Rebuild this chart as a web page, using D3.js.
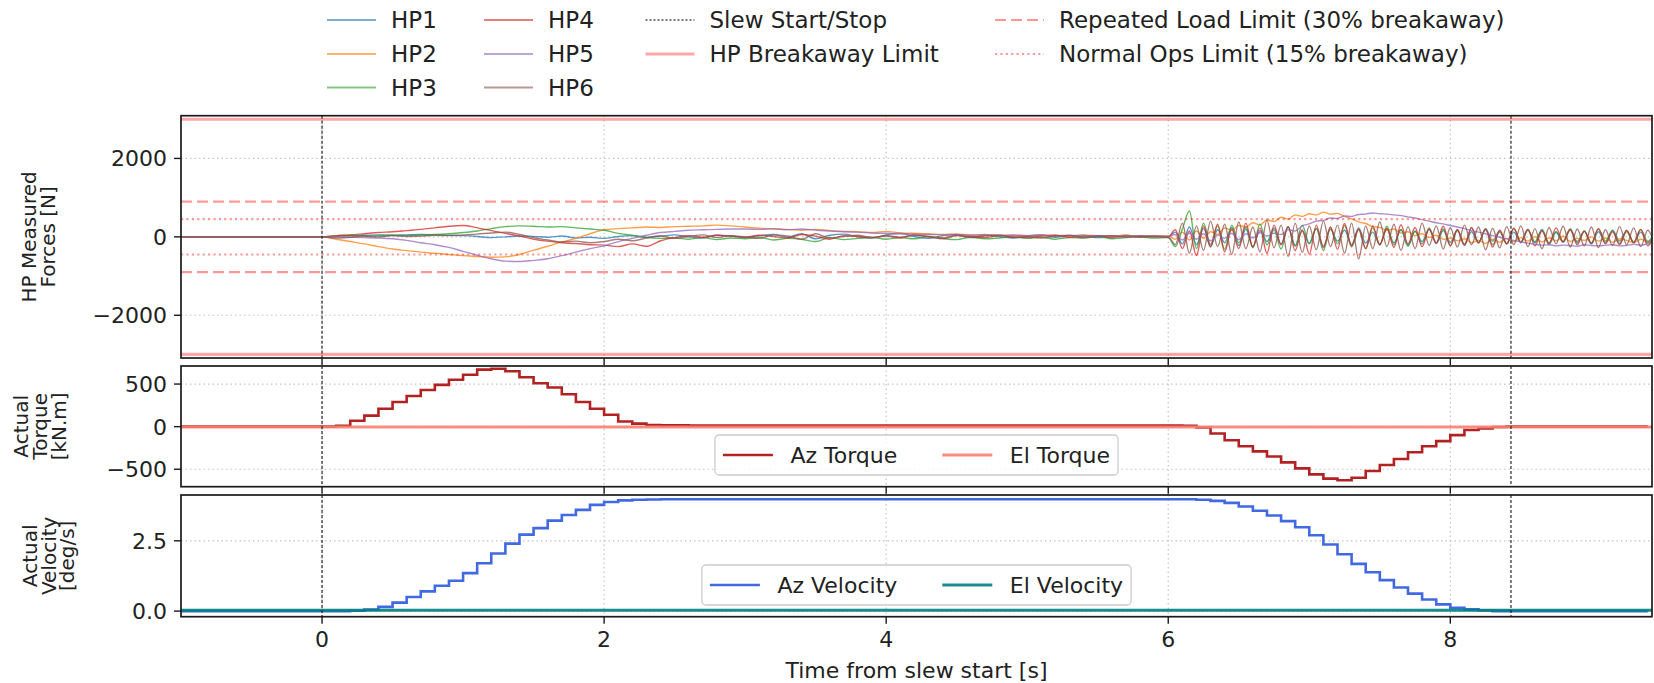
<!DOCTYPE html>
<html lang="en">
<head>
<meta charset="UTF-8">
<title>HP forces during slew</title>
<script src="https://d3js.org/d3.v7.min.js"></script>
<style>
  body { margin: 0; background: #fff; }
  text { font-family: "DejaVu Sans", sans-serif; font-size: 22px; fill: #222; }
  .topleg text { font-size: 23px; }
  text.ylab { font-size: 20px; }
</style>
</head>
<body>
<div id="chart"></div>
<script>

// ---- values ----
var slewTimes = [0, 8.43]
var xTicks = [0, 2, 4, 6, 8]
var forceTicks = [-2000, 0, 2000]
var torqueTicks = [-500, 0, 500]
var velocityTicks = [0, 2.5]

var breakawayLimit = 3000
var repeatedLimit = 900    // 30% breakaway
var normalLimit = 450      // 15% breakaway

var hpNames = ["HP1", "HP2", "HP3", "HP4", "HP5", "HP6"]
var hpColors = ["#1f77b4", "#ff7f0e", "#2ca02c", "#d62728", "#9467bd", "#8c564b"]

// sample times of the hardpoint forces: one point before the slew,
// 0.1 s steps until 6 s, then 0.05 s steps through the vibrating part
var hpTime = [-1].concat(d3.range(0, 6.05, 0.1), d3.range(6.05, 9.46, 0.05))

var hp1 = [0,
  0, 10, 30, 40, 50, 40, 50, 60, 50, 40,
  30, 10, -20, 0, 20, 10, -10, 20, -30, -10,
  -40, 10, 30, -10, 20, 50, 0, -30, 40, 20,
  -20, 30, 60, -10, 80, -50, 40, 70, 0, -30,
  50, 90, 10, -40, 30, 60, -20, 40, 10, -30,
  20, 50, -10, 30, 40, -20, 10, 40, -10, 20,
  10,
  120, -180, 250, -200, 220, -260, 180, -150, 240, -220,
  200, -250, 160, -120, 230, -190, 260, -230, 150, -170,
  210, -240, 190, -110, 170, -200, 230, -160, 120, -190,
  200, -150, 180, -210, 140, -120, 190, -170, 160, -140,
  180, -200, 130, -160, 210, -110, 150, -180, 120, -150,
  170, -130, 190, -160, 110, -140, 180, -120, 150, -170,
  130, -150, 170, -110, 160, -140, 120, -160, 100]

var hp2 = [0,
  0, -60, -120, -180, -250, -310, -350, -390, -420, -450,
  -480, -500, -520, -510, -450, -340, -240, -130, -40, 80,
  180, 210, 230, 250, 240, 260, 270, 280, 300, 280,
  250, 220, 200, 190, 170, 190, 160, 140, 130, 110,
  140, 100, 90, 80, 60, 70, 50, 60, 40, 50,
  30, 50, 40, 20, 40, 30, 20, 40, 10, 30,
  20,
  -60, 120, -80, 150, -40, 130, 60, 230, 160, 290,
  250, 360, 300, 430, 390, 500, 450, 560, 520, 590,
  560, 630, 580, 600, 520, 460, 380, 340, 260, 240,
  170, 200, 100, 130, 30, 80, -20, 40, -60, -30,
  -100, -50, -150, -90, -170, -60, -140, -40, -120, -20,
  -110, 10, -130, -30, -100, 20, -120, -40, -90, 0,
  -110, -30, -140, -50, -90, -150, -60, -120, -100]

var hp3 = [0,
  0, 30, 40, 20, 30, 40, 30, 50, 60, 80,
  110, 150, 210, 260, 280, 270, 250, 260, 230, 200,
  170, 90, 40, -20, -40, -30, -60, -20, -70, -30,
  -50, -10, -80, -40, -60, -120, -20, -70, -40, -10,
  -60, -20, -50, 10, -40, -70, -10, -50, -30, 0,
  -40, -10, -60, -20, -30, 10, -50, -20, 0, -30,
  -20,
  -250, 200, 660, -300, 350, -200, 280, -320, 300, -150,
  250, -280, 330, -200, 180, -310, 260, -230, 300, -170,
  220, -350, 240, -180, 290, -260, 180, -300, 230, -210,
  270, -200, 190, -240, 150, -180, 230, -150, 200, -220,
  160, -190, 230, -140, 180, -200, 120, -170, 210, -130,
  190, -150, 170, -200, 140, -120, 210, -160, 150, -180,
  200, -110, 160, -170, 130, -150, 190, -120, 140]

var hp4 = [0,
  0, 30, 50, 80, 110, 130, 160, 190, 230, 270,
  290, 230, 160, 90, 20, -60, -110, -150, -170, -200,
  -210, -250, -180, -240, -100, -20, 30, -10, 40, 20,
  -10, 40, 10, -30, 60, 20, -60, 30, 10, -20,
  30, -10, 50, 0, -30, 40, 10, -20, 30, 0,
  -20, 20, 40, -10, 10, 30, -20, 20, 0, 10,
  0,
  180, -300, 150, -480, 280, -250, 320, -380, 200, -300,
  350, -260, 230, -420, 300, -200, 260, -350, 180, -440,
  300, -280, 250, -320, 340, -230, 200, -300, 280, -200,
  220, -270, 310, -180, 240, -250, 200, -160, 270, -230,
  180, -220, 240, -150, 200, -260, 170, -180, 220, -140,
  190, -230, 150, -170, 230, -120, 180, -200, 140, -160,
  210, -180, 130, -200, 170, -140, 190, -230, 120]

var hp5 = [0,
  0, 0, -10, -20, -30, -50, -90, -150, -200, -270,
  -370, -470, -560, -620, -630, -600, -560, -480, -390, -300,
  -230, -120, -40, 40, 110, 140, 170, 180, 190, 200,
  200, 190, 210, 180, 200, 170, 150, 130, 120, 100,
  90, 80, 70, 60, 50, 60, 40, 50, 30, 40,
  30, 40, 20, 30, 10, 30, 20, 10, 30, 20,
  10,
  60, -80, 100, -60, 80, -100, 50, -40, 90, -70,
  80, -30, 110, 20, 90, 60, 180, 150, 280, 330,
  400, 420, 480, 470, 530, 520, 570, 580, 610, 590,
  580, 560, 540, 510, 480, 440, 400, 360, 330, 290,
  250, 210, 160, 120, 80, 30, -10, -50, -90, -130,
  -160, -190, -210, -200, -230, -210, -220, -240, -200, -220,
  -230, -210, -200, -230, -220, -190, -210, -180, -170]

var hp6 = [0,
  0, -30, -10, 20, 0, 30, 10, 20, 40, 30,
  50, 70, 100, 120, 60, -20, -80, -130, -110, -150,
  -120, -60, -100, -30, 20, -40, 10, 50, -20, 30,
  0, -40, 50, 20, -60, 80, -30, 10, 40, -20,
  20, -30, 40, 10, -50, 30, -10, 20, 50, -20,
  10, -30, 20, 40, -20, 10, 30, -10, 20, 0,
  -10,
  -200, 350, -420, 280, -350, 400, -250, 320, -450, 380,
  -300, 250, -380, 420, -280, 300, -500, 350, -400, 280,
  -330, 400, -250, 300, -420, 350, -560, 280, -300, 380,
  -250, 320, -350, 260, -300, 350, -220, 280, -310, 240,
  -260, 300, -200, 250, -330, 220, -280, 260, -200, 280,
  -250, 210, -300, 240, -180, 270, -260, 200, -230, 250,
  -270, 180, -220, 260, -200, 230, -250, 170, -210]

var hpSeries = [hp1, hp2, hp3, hp4, hp5, hp6]

// mount torque and velocity, controller steps of 0.1 s
var motionTime = [-1].concat(d3.range(0, 9.45, 0.1))

var azTorque = [0,
  0, 10, 70, 130, 210, 290, 360, 430, 490, 550,
  610, 670, 680, 650, 580, 510, 460, 380, 290, 210,
  140, 60, 35, 20, 15, 15, 12, 12, 12, 12,
  12, 12, 12, 12, 12, 12, 12, 12, 12, 12,
  12, 12, 12, 12, 12, 12, 12, 12, 12, 12,
  12, 12, 12, 12, 12, 12, 12, 12, 12, 12,
  12, 10, -10, -80, -160, -230, -290, -350, -420, -490,
  -560, -610, -630, -600, -520, -450, -380, -300, -230, -170,
  -100, -40, -20, -5, 0, 0, 0, 0, 0, 0,
  0, 0, 0, 0, 0]

var azVelocity = [0,
  0, 0, 0.01, 0.05, 0.15, 0.3, 0.5, 0.7, 0.9, 1.08,
  1.35, 1.7, 2.05, 2.4, 2.72, 2.95, 3.22, 3.42, 3.6, 3.78,
  3.88, 3.94, 3.96, 3.97, 3.98, 3.98, 3.98, 3.98, 3.98, 3.98,
  3.98, 3.98, 3.98, 3.98, 3.98, 3.98, 3.98, 3.98, 3.98, 3.98,
  3.98, 3.98, 3.98, 3.98, 3.98, 3.98, 3.98, 3.98, 3.98, 3.98,
  3.98, 3.98, 3.98, 3.98, 3.98, 3.98, 3.98, 3.98, 3.98, 3.98,
  3.98, 3.98, 3.96, 3.92, 3.85, 3.72, 3.57, 3.4, 3.2, 2.98,
  2.7, 2.37, 2.02, 1.68, 1.38, 1.1, 0.84, 0.62, 0.41, 0.24,
  0.12, 0.06, 0.02, 0, 0, 0, 0, 0, 0, 0,
  0, 0, 0, 0, 0]

// elevation axis hardly moves
var elTime = [-1, 0, 2, 4, 6, 8, 9.43]
var elTorque = [-4, -4, -4, -4, -4, -4, -4]
var elVelocity = [0.03, 0.03, 0.03, 0.03, 0.03, 0.03, 0.03]

// ---- layout ----
var width = 1654, height = 683
var left = 181, right = 1652

var panels = [
    {top: 115.7, bottom: 358, domain: [-3090, 3090], ticks: forceTicks, fmt: d3.format("d"),
     label: ["HP Measured", "Forces [N]"], labelX: 28.5},
    {top: 366, bottom: 486.7, domain: [-705, 712], ticks: torqueTicks, fmt: d3.format("d"),
     label: ["Actual", "Torque", "[kN.m]"], labelX: 21},
    {top: 495, bottom: 616.7, domain: [-0.2, 4.13], ticks: velocityTicks, fmt: d3.format(".1f"),
     label: ["Actual", "Velocity", "[deg/s]"], labelX: 29.5}
]
var labelStep = 18.8

var x = d3.scaleLinear().domain([-1, 9.43]).range([left, right])

var svg = d3.select("#chart")
    .append("svg")
    .attr("width", width)
    .attr("height", height)

function lineFor(t, v, y, curve) {
    return d3.line()
        .x(function(d, i) { return x(t[i]) })
        .y(function(d) { return y(d) })
        .curve(curve || d3.curveLinear)(v)
}

function hline(g, y, value, style) {
    g.append("line")
        .attr("x1", left).attr("x2", right)
        .attr("y1", y(value)).attr("y2", y(value))
        .attr("stroke", style.color)
        .attr("stroke-opacity", style.opacity)
        .attr("stroke-width", style.width)
        .attr("stroke-dasharray", style.dash || null)
}

var breakStyle = {color: "red", opacity: 0.35, width: 3.2}
var repeatStyle = {color: "red", opacity: 0.4, width: 2.2, dash: "11,5"}
var normalStyle = {color: "red", opacity: 0.4, width: 2.2, dash: "2.2,3.2"}
var slewStyle = {color: "#222", opacity: 0.9, width: 1.3, dash: "3,2"}

panels.forEach(function(p, pi) {
    var y = d3.scaleLinear().domain(p.domain).range([p.bottom, p.top])
    p.y = y

    var clipId = "clip" + pi
    svg.append("clipPath").attr("id", clipId)
        .append("rect")
        .attr("x", left).attr("y", p.top)
        .attr("width", right - left).attr("height", p.bottom - p.top)

    var g = svg.append("g").attr("clip-path", "url(#" + clipId + ")")

    // dotted grid
    xTicks.forEach(function(t) {
        g.append("line")
            .attr("x1", x(t)).attr("x2", x(t))
            .attr("y1", p.top).attr("y2", p.bottom)
            .attr("stroke", "#c4c4c4").attr("stroke-width", 1.2)
            .attr("stroke-dasharray", "1.5,3")
    })
    p.ticks.forEach(function(v) {
        g.append("line")
            .attr("x1", left).attr("x2", right)
            .attr("y1", y(v)).attr("y2", y(v))
            .attr("stroke", "#c4c4c4").attr("stroke-width", 1.2)
            .attr("stroke-dasharray", "1.5,3")
    })

    if (pi === 0) {
        hpSeries.forEach(function(s, i) {
            g.append("path")
                .attr("d", lineFor(hpTime, s, y, d3.curveMonotoneX))
                .attr("fill", "none")
                .attr("stroke", hpColors[i])
                .attr("stroke-opacity", 0.75)
                .attr("stroke-width", 1.4)
        })
        hline(g, y, breakawayLimit, breakStyle)
        hline(g, y, -breakawayLimit, breakStyle)
        hline(g, y, repeatedLimit, repeatStyle)
        hline(g, y, -repeatedLimit, repeatStyle)
        hline(g, y, normalLimit, normalStyle)
        hline(g, y, -normalLimit, normalStyle)
    } else if (pi === 1) {
        g.append("path")
            .attr("d", lineFor(motionTime, azTorque, y, d3.curveStepAfter))
            .attr("fill", "none").attr("stroke", "#b22222").attr("stroke-width", 2.6)
        g.append("path")
            .attr("d", lineFor(elTime, elTorque, y))
            .attr("fill", "none").attr("stroke", "#fa8072")
            .attr("stroke-opacity", 0.9).attr("stroke-width", 3)
    } else {
        g.append("path")
            .attr("d", lineFor(motionTime, azVelocity, y, d3.curveStepAfter))
            .attr("fill", "none").attr("stroke", "#4169e1").attr("stroke-width", 2.6)
        g.append("path")
            .attr("d", lineFor(elTime, elVelocity, y))
            .attr("fill", "none").attr("stroke", "#008080")
            .attr("stroke-opacity", 0.9).attr("stroke-width", 3.2)
    }

    // slew start / stop markers
    slewTimes.forEach(function(t) {
        g.append("line")
            .attr("x1", x(t)).attr("x2", x(t))
            .attr("y1", p.top).attr("y2", p.bottom)
            .attr("stroke", slewStyle.color).attr("stroke-opacity", slewStyle.opacity)
            .attr("stroke-width", slewStyle.width).attr("stroke-dasharray", slewStyle.dash)
    })

    // frame
    svg.append("rect")
        .attr("x", left).attr("y", p.top)
        .attr("width", right - left).attr("height", p.bottom - p.top)
        .attr("fill", "none").attr("stroke", "#1a1a1a").attr("stroke-width", 1.7)

    // y ticks
    p.ticks.forEach(function(v) {
        svg.append("line")
            .attr("x1", left - 7).attr("x2", left)
            .attr("y1", y(v)).attr("y2", y(v))
            .attr("stroke", "#1a1a1a").attr("stroke-width", 1.4)
        svg.append("text")
            .attr("x", left - 14).attr("y", y(v)).attr("dy", "0.36em")
            .attr("text-anchor", "end")
            .text(p.fmt(v))
    })

    // x ticks on every panel, labels only at the bottom
    xTicks.forEach(function(t) {
        svg.append("line")
            .attr("x1", x(t)).attr("x2", x(t))
            .attr("y1", p.bottom).attr("y2", p.bottom + 7)
            .attr("stroke", "#1a1a1a").attr("stroke-width", 1.4)
        if (pi === panels.length - 1) {
            svg.append("text")
                .attr("x", x(t)).attr("y", p.bottom + 14).attr("dy", "0.76em")
                .attr("text-anchor", "middle")
                .text(d3.format("d")(t))
        }
    })

    // multi line y label
    var cy = (p.top + p.bottom) / 2
    p.label.forEach(function(s, i) {
        var cx = p.labelX + i * labelStep
        svg.append("text")
            .attr("class", "ylab")
            .attr("transform", "translate(" + cx + "," + cy + ") rotate(-90)")
            .attr("text-anchor", "middle")
            .attr("dy", "0.36em")
            .text(s)
    })
})

svg.append("text")
    .attr("x", (left + right) / 2).attr("y", 678)
    .attr("text-anchor", "middle")
    .text("Time from slew start [s]")

// ---- legends ----
function drawHandle(g, x0, yy, len, st) {
    g.append("line")
        .attr("x1", x0).attr("x2", x0 + len)
        .attr("y1", yy).attr("y2", yy)
        .attr("stroke", st.color)
        .attr("stroke-opacity", st.opacity)
        .attr("stroke-width", st.width)
        .attr("stroke-dasharray", st.dash || null)
}

function panelLegend(p, items) {
    var g = svg.append("g")
    var handleLen = 50, gap = 17.5, colGap = 45, pad = 8, boxH = 40
    var cy = p.bottom - 11.7 - boxH / 2
    var box = g.append("rect")
    var parts = items.map(function(it) {
        var t = g.append("text").attr("y", cy).attr("dy", "0.36em").text(it.label)
        return {it: it, t: t, w: t.node().getComputedTextLength()}
    })
    var total = 2 * pad + d3.sum(parts, function(d) { return handleLen + gap + d.w }) + colGap * (parts.length - 1)
    var bx = (left + right) / 2 - total / 2
    box.attr("x", bx).attr("y", cy - boxH / 2)
        .attr("width", total).attr("height", boxH)
        .attr("rx", 4)
        .attr("fill", "white").attr("fill-opacity", 0.8)
        .attr("stroke", "#cccccc").attr("stroke-width", 1.3)
    var cx = bx + pad
    parts.forEach(function(d) {
        drawHandle(g, cx, cy, handleLen, d.it.style)
        d.t.attr("x", cx + handleLen + gap)
        cx += handleLen + gap + d.w + colGap
    })
}

panelLegend(panels[1], [
    {label: "Az Torque", style: {color: "#b22222", opacity: 1, width: 2.6}},
    {label: "El Torque", style: {color: "#fa8072", opacity: 0.9, width: 3}}
])
panelLegend(panels[2], [
    {label: "Az Velocity", style: {color: "#4169e1", opacity: 1, width: 2.6}},
    {label: "El Velocity", style: {color: "#008080", opacity: 0.9, width: 3.2}}
])

// figure legend on top, four columns
var topColumns = [
    hpNames.slice(0, 3).map(function(n, i) { return {label: n, style: {color: hpColors[i], opacity: 0.6, width: 2}} }),
    hpNames.slice(3, 6).map(function(n, i) { return {label: n, style: {color: hpColors[i + 3], opacity: 0.6, width: 2}} }),
    [{label: "Slew Start/Stop", style: {color: "#222", opacity: 0.8, width: 1.3, dash: "2,2"}},
     {label: "HP Breakaway Limit", style: breakStyle}],
    [{label: "Repeated Load Limit (30% breakaway)", style: repeatStyle},
     {label: "Normal Ops Limit (15% breakaway)", style: normalStyle}]
]
var colX = [327, 484, 645.5, 995]
var rowY = [20, 54, 87.5]
var legTop = svg.append("g").attr("class", "topleg")
topColumns.forEach(function(col, ci) {
    col.forEach(function(it, ri) {
        drawHandle(legTop, colX[ci], rowY[ri], 49, it.style)
        legTop.append("text")
            .attr("x", colX[ci] + 64).attr("y", rowY[ri]).attr("dy", "0.36em")
            .text(it.label)
    })
})

</script>
</body>
</html>
